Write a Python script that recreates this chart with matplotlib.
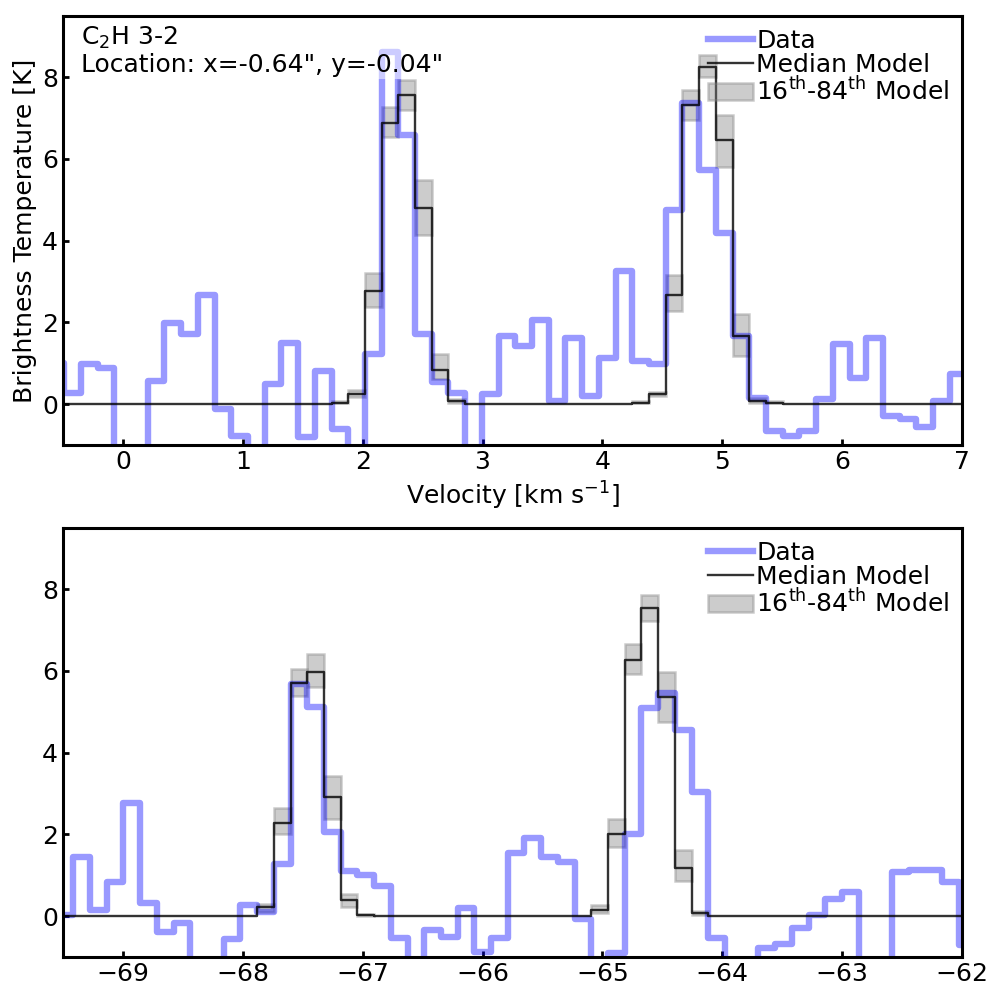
import numpy as np
import matplotlib
matplotlib.use("Agg")
import matplotlib.pyplot as plt

plt.rcParams["font.size"] = 18
plt.rcParams["axes.linewidth"] = 2.2
plt.rcParams["xtick.direction"] = "in"
plt.rcParams["ytick.direction"] = "in"
plt.rcParams["xtick.major.width"] = 2
plt.rcParams["ytick.major.width"] = 2
plt.rcParams["xtick.major.size"] = 4
plt.rcParams["ytick.major.size"] = 4


###########################################################
# Data (channel width)
###########################################################

chan_width = 0.1394

# upper spectrum: first channel centre and brightness per channel
top_v_start = -0.560
top_data = [
    1.00, 0.28, 0.98, 0.89, -1.50, -1.30, 0.57, 1.99, 1.71, 2.68,
    -0.12, -0.77, -1.40, 0.49, 1.50, -0.81, 0.81, -0.61, -1.30, 1.22,
    8.62, 6.59, 1.71, 0.53, 0.28, -1.50, 0.24, 1.67, 1.42, 2.07,
    0.08, 1.63, 0.20, 1.14, 3.25, 1.06, 0.98, 4.76, 7.36, 5.73,
    4.19, 1.67, 0.16, -0.65, -0.77, -0.65, 0.12, 1.46, 0.65, 1.63,
    -0.28, -0.37, -0.57, 0.08, 0.73, 0.73,
]
top_model = [
    0, 0, 0, 0, 0, 0, 0, 0, 0, 0,
    0, 0, 0, 0, 0, 0, 0, 0.04, 0.26, 2.78,
    6.89, 7.56, 4.81, 0.84, 0.07, 0, 0, 0, 0, 0,
    0, 0, 0, 0, 0, 0.04, 0.24, 2.68, 7.32, 8.25,
    6.46, 1.67, 0.08, 0.04, 0, 0, 0, 0, 0, 0,
    0, 0, 0, 0, 0, 0,
]
top_p16 = [
    0, 0, 0, 0, 0, 0, 0, 0, 0, 0,
    0, 0, 0, 0, 0, 0, 0, 0.02, 0.18, 2.37,
    6.54, 7.20, 4.15, 0.61, 0.03, 0, 0, 0, 0, 0,
    0, 0, 0, 0, 0, 0.02, 0.19, 2.28, 6.95, 8.00,
    5.81, 1.18, 0.04, 0.02, 0, 0, 0, 0, 0, 0,
    0, 0, 0, 0, 0, 0,
]
top_p84 = [
    0, 0, 0, 0, 0, 0, 0, 0, 0, 0,
    0, 0, 0, 0, 0, 0, 0, 0.07, 0.34, 3.21,
    7.28, 7.93, 5.49, 1.22, 0.12, 0, 0, 0, 0, 0,
    0, 0, 0, 0, 0, 0.07, 0.30, 3.17, 7.68, 8.54,
    7.07, 2.20, 0.14, 0.07, 0, 0, 0, 0, 0, 0,
    0, 0, 0, 0, 0, 0,
]

# lower spectrum (other hyperfine group)
bot_v_start = -69.623
bot_data = [
    0.00, 0.02, 1.45, 0.15, 0.84, 2.76, 0.33, -0.38, -0.18, -1.40,
    -1.60, -0.57, 0.27, 0.11, 1.28, 5.69, 5.11, 2.06, 1.10, 1.00,
    0.73, -0.53, -1.30, -0.33, -0.50, 0.19, -0.87, -0.54, 1.55, 1.92,
    1.45, 1.33, -0.08, -1.50, -0.89, 2.02, 5.09, 5.45, 4.55, 3.03,
    -0.54, -1.40, -1.50, -0.79, -0.67, -0.30, 0.02, 0.43, 0.59, -1.50,
    -1.40, 1.08, 1.14, 1.12, 0.84, -0.71, -0.70,
]
bot_model = [
    0, 0, 0, 0, 0, 0, 0, 0, 0, 0,
    0, 0, 0, 0.23, 2.28, 5.70, 5.98, 2.91, 0.39, 0.02,
    0, 0, 0, 0, 0, 0, 0, 0, 0, 0,
    0, 0, 0, 0.16, 2.02, 6.28, 7.53, 5.37, 1.19, 0.07,
    0, 0, 0, 0, 0, 0, 0, 0, 0, 0,
    0, 0, 0, 0, 0, 0, 0,
]
bot_p16 = [
    0, 0, 0, 0, 0, 0, 0, 0, 0, 0,
    0, 0, 0, 0.10, 2.00, 5.39, 5.62, 2.38, 0.23, 0.01,
    0, 0, 0, 0, 0, 0, 0, 0, 0, 0,
    0, 0, 0, 0.08, 1.69, 5.92, 7.22, 4.74, 0.86, 0.03,
    0, 0, 0, 0, 0, 0, 0, 0, 0, 0,
    0, 0, 0, 0, 0, 0, 0,
]
bot_p84 = [
    0, 0, 0, 0, 0, 0, 0, 0, 0, 0,
    0, 0, 0, 0.30, 2.65, 6.04, 6.42, 3.44, 0.55, 0.05,
    0, 0, 0, 0, 0, 0, 0, 0, 0, 0,
    0, 0, 0, 0.27, 2.38, 6.67, 7.87, 5.98, 1.61, 0.12,
    0, 0, 0, 0, 0, 0, 0, 0, 0, 0,
    0, 0, 0, 0, 0, 0, 0,
]


###########################################################
# Plotting
###########################################################

def plot_spectrum(ax, v_start, data, model, p16, p84):

    vel = v_start + chan_width * np.arange(len(data))
    p16 = np.array(p16)
    p84 = np.array(p84)
    mask = p84 > p16

    ax.plot(vel, data, drawstyle="steps-mid", color="blue",
            alpha=0.4, lw=4.6, label="Data", zorder=2)
    ax.plot(vel, model, drawstyle="steps-mid", color="k",
            alpha=0.8, lw=1.7, label="Median Model", zorder=3)
    ax.bar(vel[mask], (p84 - p16)[mask], bottom=p16[mask],
           width=chan_width, facecolor="grey", edgecolor="grey",
           alpha=0.4, lw=1.8, label=r"16$^{\rm th}$-84$^{\rm th}$ Model",
           zorder=1)

    ax.set_ylim(-1, 9.5)
    ax.set_yticks([0, 2, 4, 6, 8])
    ax.legend(loc="upper right", frameon=False, fontsize=18,
              labelspacing=0.0, handletextpad=0.15, handlelength=1.8,
              borderaxespad=0.1, borderpad=0.4)


fig = plt.figure(figsize=(10, 10), dpi=100)
ax1 = fig.add_axes([0.063, 0.555, 0.899, 0.429])
ax2 = fig.add_axes([0.063, 0.043, 0.899, 0.429])

plot_spectrum(ax1, top_v_start, top_data, top_model, top_p16, top_p84)
ax1.set_xlim(-0.5, 7)
ax1.set_xticks(np.arange(0, 8))
ax1.set_xlabel(r"Velocity [km s$^{-1}$]")
ax1.set_ylabel("Brightness Temperature [K]")
ax1.text(0.02, 0.98, "C$_2$H 3-2\nLocation: x=-0.64\", y=-0.04\"",
         transform=ax1.transAxes, va="top", ha="left", fontsize=18,
         linespacing=1.1, zorder=5,
         bbox=dict(facecolor="white", alpha=0.5, edgecolor="none", pad=2))

plot_spectrum(ax2, bot_v_start, bot_data, bot_model, bot_p16, bot_p84)
ax2.set_xlim(-69.5, -62)
ax2.set_xticks(np.arange(-69, -61))

fig.savefig("out.png", dpi=100)
plt.close(fig)
